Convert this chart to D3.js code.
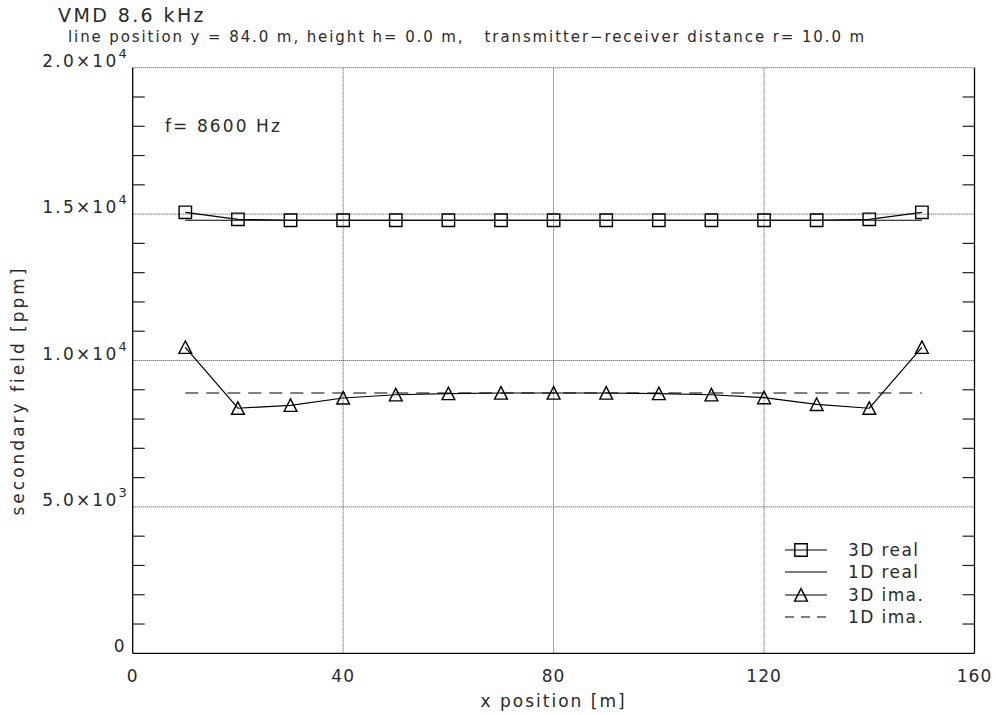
<!DOCTYPE html>
<html>
<head>
<meta charset="utf-8">
<script src="https://cdn.jsdelivr.net/npm/d3@7"></script>
<style>
  html, body { margin: 0; padding: 0; background: #fff; }
  svg text { font-family: "DejaVu Sans", sans-serif; fill: #2a2a2a; }
</style>
</head>
<body>
<svg id="chart" width="996" height="715"></svg>
<script>
// x positions along the survey line [m]
const xPositions = [10, 20, 30, 40, 50, 60, 70, 80, 90, 100, 110, 120, 130, 140, 150];
// secondary field [ppm]
const real3D = [15060, 14820, 14790, 14790, 14790, 14790, 14790, 14790, 14790, 14790, 14790, 14790, 14790, 14820, 15060];
const real1D = [14790, 14790, 14790, 14790, 14790, 14790, 14790, 14790, 14790, 14790, 14790, 14790, 14790, 14790, 14790];
const ima3D  = [10450, 8370, 8470, 8720, 8830, 8870, 8890, 8890, 8890, 8870, 8830, 8730, 8500, 8370, 10450];
const ima1D  = [8890, 8890, 8890, 8890, 8890, 8890, 8890, 8890, 8890, 8890, 8890, 8890, 8890, 8890, 8890];

const xTicks = [0, 40, 80, 120, 160];
const yTicks = [0, 5000, 10000, 15000, 20000];
const yTickMantissa = ["0", "5.0×10", "1.0×10", "1.5×10", "2.0×10"];
const yTickExponent = ["", "3", "4", "4", "4"];
const yMinorStep = 1000;

const titleText = "VMD 8.6 kHz";
const subtitleText = "line position y = 84.0 m, height h= 0.0 m,   transmitter\u2212receiver distance r= 10.0 m";
const freqText = "f= 8600 Hz";
const legendLabels = ["3D real", "1D real", "3D ima.", "1D ima."];

const svg = d3.select("#chart");
const x = d3.scaleLinear().domain([0, 160]).range([132.7, 974.5]);
const y = d3.scaleLinear().domain([0, 20000]).range([653.3, 67.7]);
const [x0, x1] = x.range();
const [y0, y1] = y.range();

// grid (dotted), including the top edge
const grid = svg.append("g").attr("stroke", "#444").attr("stroke-width", 1)
  .attr("stroke-dasharray", "1,1").attr("fill", "none");
xTicks.filter(t => t > 0 && t < 160).forEach(t => {
  grid.append("line").attr("x1", x(t)).attr("x2", x(t)).attr("y1", y0).attr("y2", y1);
});
yTicks.filter(t => t > 0).forEach(t => {
  grid.append("line").attr("x1", x0).attr("x2", x1).attr("y1", y(t)).attr("y2", y(t));
});

// axes: left, bottom, right solid lines
const axes = svg.append("g").attr("stroke", "#000").attr("stroke-width", 1.3).attr("fill", "none");
axes.append("line").attr("x1", x0).attr("x2", x0).attr("y1", y0).attr("y2", y1);
axes.append("line").attr("x1", x0).attr("x2", x1).attr("y1", y0).attr("y2", y0);
axes.append("line").attr("x1", x1).attr("x2", x1).attr("y1", y0).attr("y2", y1);

// minor ticks on left and right axes
const minor = d3.range(yMinorStep, 20000, yMinorStep).filter(v => v % 5000 !== 0);
const tk = svg.append("g").attr("stroke", "#222").attr("stroke-width", 1.2);
minor.forEach(v => {
  tk.append("line").attr("x1", x0).attr("x2", x0 + 12).attr("y1", y(v)).attr("y2", y(v));
  tk.append("line").attr("x1", x1 - 12).attr("x2", x1).attr("y1", y(v)).attr("y2", y(v));
});

// y tick labels with superscript exponents
yTicks.forEach((t, i) => {
  const txt = svg.append("text").attr("x", x0 - 6).attr("y", y(t) - 1)
    .attr("text-anchor", "end").attr("font-size", 17);
  txt.append("tspan").attr("letter-spacing", 2.2).text(yTickMantissa[i]);
  if (yTickExponent[i]) {
    txt.append("tspan").attr("dy", -9).attr("font-size", 13).text(yTickExponent[i]);
  }
});

// x tick labels
xTicks.forEach(t => {
  svg.append("text").attr("x", x(t)).attr("y", 682).attr("text-anchor", "middle")
    .attr("font-size", 17).attr("letter-spacing", 1).text(t);
});

// axis titles
svg.append("text").attr("x", (x0 + x1) / 2).attr("y", 707).attr("text-anchor", "middle")
  .attr("font-size", 17).attr("letter-spacing", 2).text("x position [m]");
svg.append("text").attr("transform", `translate(24,${(y0 + y1) / 2 + 30}) rotate(-90)`)
  .attr("text-anchor", "middle").attr("font-size", 17).attr("letter-spacing", 3)
  .text("secondary field [ppm]");

// titles
svg.append("text").attr("x", 58).attr("y", 22).attr("font-size", 19).attr("letter-spacing", 2.4).text(titleText);
svg.append("text").attr("x", 68).attr("y", 42).attr("font-size", 15).attr("letter-spacing", 1.9)
  .style("white-space", "pre").text(subtitleText);
svg.append("text").attr("x", 165).attr("y", 132).attr("font-size", 17).attr("letter-spacing", 2.1)
  .style("white-space", "pre").text(freqText);

// series
const line = d3.line().x(d => x(d[0])).y(d => y(d[1]));
const zip = vals => xPositions.map((p, i) => [p, vals[i]]);
const plot = svg.append("g").attr("fill", "none").attr("stroke", "#000").attr("stroke-width", 1.2);
plot.append("path").attr("d", line(zip(real1D)));
plot.append("path").attr("d", line(zip(real3D)));
plot.append("path").attr("d", line(zip(ima3D)));
plot.append("path").attr("d", line(zip(ima1D))).attr("stroke-dasharray", "13,8");

const squarePath = s => `M${-s},${-s}H${s}V${s}H${-s}Z`;
const triPath = s => `M0,${-s}L${s},${s * 0.95}L${-s},${s * 0.95}Z`;

plot.append("g").selectAll("path").data(zip(real3D)).join("path")
  .attr("transform", d => `translate(${x(d[0])},${y(d[1])})`)
  .attr("d", squarePath(6.2)).attr("stroke-width", 1.4);
plot.append("g").selectAll("path").data(zip(ima3D)).join("path")
  .attr("transform", d => `translate(${x(d[0])},${y(d[1])})`)
  .attr("d", triPath(6.4)).attr("stroke-width", 1.4);

// legend
const lg = svg.append("g");
const rows = [550, 572, 595, 617];
const lx0 = 785, lx1 = 827, lxm = 801;
legendLabels.forEach((lab, i) => {
  const ln = lg.append("line").attr("x1", lx0).attr("x2", lx1).attr("y1", rows[i]).attr("y2", rows[i])
    .attr("stroke", "#000").attr("stroke-width", 1.2);
  if (i === 3) ln.attr("stroke-dasharray", "9,7");
  if (i === 0) lg.append("path").attr("transform", `translate(${lxm},${rows[i]})`).attr("d", squarePath(6.2))
    .attr("fill", "none").attr("stroke", "#000").attr("stroke-width", 1.4);
  if (i === 2) lg.append("path").attr("transform", `translate(${lxm},${rows[i]})`).attr("d", triPath(6.4))
    .attr("fill", "none").attr("stroke", "#000").attr("stroke-width", 1.4);
  lg.append("text").attr("x", 848).attr("y", rows[i] + 6).attr("font-size", 17).attr("letter-spacing", 1.4)
    .text(lab);
});
</script>
</body>
</html>
